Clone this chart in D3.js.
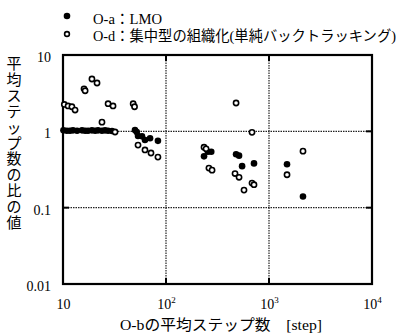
<!DOCTYPE html>
<html>
<head>
<meta charset="utf-8">
<script src="https://cdn.jsdelivr.net/npm/d3@7"></script>
<style>
  body { margin: 0; background: #fff; }
  text { font-family: "Liberation Serif", "Noto Sans CJK JP", serif; fill: #000; }
</style>
</head>
<body>
<div id="chart"></div>
<script>
// O-a : LMO (filled)
const aSteps = [10.1, 10.9, 11.7, 12.5, 13.7, 15.3, 16.4, 17.5, 19.1, 20.5, 21.9, 23.9, 25.6, 27.4, 29.9,
                50, 52, 53.5, 58.5, 62.5, 70, 83.5,
                234, 255, 275, 479, 512, 548, 715, 1496, 2138];
const aRatio = [1.03, 1.02, 1.02, 1.03, 1.02, 1.03, 1.02, 1.02, 1.03, 1.02, 1.03, 1.02, 1.03, 1.02, 1.01,
                1.04, 0.98, 0.87, 0.86, 0.77, 0.81, 0.75,
                0.47, 0.54, 0.54, 0.50, 0.48, 0.35, 0.38, 0.37, 0.14];

// O-d : 集中型の組織化 (open)
const dSteps = [10.3, 11.2, 12.2, 13.1, 16.0, 16.4, 19.1, 21.4, 23.9, 27.4, 30.6, 32.0,
                48, 49.5, 53.5, 62.5, 71.5, 83.5,
                234, 245, 261, 280, 479, 684, 468, 512, 572, 684, 715, 1496, 2138];
const dRatio = [2.25, 2.15, 2.1, 1.9, 3.6, 3.4, 4.85, 4.3, 1.32, 2.3, 2.15, 0.98,
                2.3, 2.1, 0.66, 0.57, 0.52, 0.46,
                0.62, 0.59, 0.33, 0.31, 2.35, 0.97, 0.28, 0.25, 0.17, 0.21, 0.20, 0.27, 0.55];

const xTicks = [10, 100, 1000, 10000];
const xExp = ["", "2", "3", "4"];
const yTicks = [0.01, 0.1, 1, 10];
const yTickLabels = ["0.01", "0.1", "1", "10"];

const legendLabels = ["O-a：LMO", "O-d：集中型の組織化(単純バックトラッキング)"];
const yTitle = "平均ステップ数の比の値";
const xTitle = "O-bの平均ステップ数　[step]";

var margin = {top: 55, right: 34, bottom: 51, left: 63},
    width = 406 - margin.left - margin.right,
    height = 335 - margin.top - margin.bottom;

var root = d3.select("#chart").append("svg")
    .attr("width", 406)
    .attr("height", 335);

var svg = root.append("g")
    .attr("transform", "translate(" + margin.left + "," + margin.top + ")");

var x = d3.scaleLog().domain([10, 10000]).range([0, width]);
var y = d3.scaleLog().domain([0.01, 10]).range([height, 0]);

// dotted grid
svg.selectAll(".vgrid")
    .data(xTicks.slice(1, -1))
    .enter().append("line")
        .attr("x1", d => x(d)).attr("x2", d => x(d))
        .attr("y1", 0).attr("y2", height)
        .attr("stroke", "#222").attr("stroke-width", 1.2)
        .attr("stroke-dasharray", "1.5,1");

svg.selectAll(".hgrid")
    .data(yTicks.slice(1, -1))
    .enter().append("line")
        .attr("x1", 0).attr("x2", width)
        .attr("y1", d => y(d)).attr("y2", d => y(d))
        .attr("stroke", "#222").attr("stroke-width", 1.2)
        .attr("stroke-dasharray", "1.5,1");

// inner ticks
xTicks.slice(1, -1).forEach(t => {
    svg.append("line").attr("x1", x(t)).attr("x2", x(t)).attr("y1", height).attr("y2", height - 6)
        .attr("stroke", "#000").attr("stroke-width", 2);
    svg.append("line").attr("x1", x(t)).attr("x2", x(t)).attr("y1", 0).attr("y2", 6)
        .attr("stroke", "#000").attr("stroke-width", 2);
});
yTicks.slice(1, -1).forEach(t => {
    svg.append("line").attr("x1", 0).attr("x2", 6).attr("y1", y(t)).attr("y2", y(t))
        .attr("stroke", "#000").attr("stroke-width", 2);
    svg.append("line").attr("x1", width).attr("x2", width - 6).attr("y1", y(t)).attr("y2", y(t))
        .attr("stroke", "#000").attr("stroke-width", 2);
});

// frame
svg.append("rect")
    .attr("x", 0).attr("y", 0)
    .attr("width", width).attr("height", height)
    .attr("fill", "none").attr("stroke", "#000").attr("stroke-width", 2.2);

// axes labels
var xAxis = svg.append("g")
    .attr("transform", "translate(0," + height + ")")
    .call(d3.axisBottom(x).tickValues(xTicks).tickSize(0).tickFormat(() => ""));
xAxis.select(".domain").remove();
xAxis.selectAll("text")
    .attr("y", 25).attr("dy", null)
    .attr("font-size", "14px")
    .attr("font-family", "Liberation Serif")
    .each(function(d, i) {
        let t = d3.select(this);
        t.append("tspan").text("10");
        if (xExp[i]) {
            t.append("tspan").attr("font-size", "9px").attr("dy", -6).text(xExp[i]);
        }
    });

var yAxis = svg.append("g")
    .call(d3.axisLeft(y).tickValues(yTicks).tickSize(0).tickFormat((d, i) => yTickLabels[i]));
yAxis.select(".domain").remove();
yAxis.selectAll("text")
    .attr("x", -12)
    .attr("y", 2)
    .attr("font-size", "14px")
    .attr("font-family", "Liberation Serif");

// points
svg.selectAll(".pa")
    .data(aSteps)
    .enter().append("circle")
        .attr("cx", d => x(d))
        .attr("cy", (d, i) => y(aRatio[i]))
        .attr("r", 3.3)
        .attr("fill", "#000");

svg.selectAll(".pd")
    .data(dSteps)
    .enter().append("circle")
        .attr("cx", d => x(d))
        .attr("cy", (d, i) => y(dRatio[i]))
        .attr("r", 2.6)
        .attr("fill", "#fff")
        .attr("stroke", "#000")
        .attr("stroke-width", 1.6);

// legend
root.append("circle").attr("cx", 67).attr("cy", 16).attr("r", 3.3).attr("fill", "#000");
root.append("circle").attr("cx", 67).attr("cy", 34).attr("r", 2.4)
    .attr("fill", "#fff").attr("stroke", "#000").attr("stroke-width", 1.6);
root.append("text").attr("x", 93).attr("y", 24).attr("font-size", "15px")
    .attr("textLength", 69).attr("lengthAdjust", "spacingAndGlyphs")
    .text(legendLabels[0]);
root.append("text").attr("x", 93).attr("y", 41).attr("font-size", "14.3px")
    .text(legendLabels[1]);

// y title, vertical
root.selectAll(".ych")
    .data(Array.from(yTitle))
    .enter().append("text")
        .attr("x", 14)
        .attr("y", (d, i) => 69 + i * 15.9)
        .attr("text-anchor", "middle")
        .attr("font-size", "15px")
        .attr("font-family", "Noto Sans CJK JP")
        .text(d => d);

// x title
root.append("text").attr("x", 120).attr("y", 330).attr("font-size", "15px")
    .attr("textLength", 202).attr("lengthAdjust", "spacingAndGlyphs")
    .text(xTitle);
</script>
</body>
</html>
